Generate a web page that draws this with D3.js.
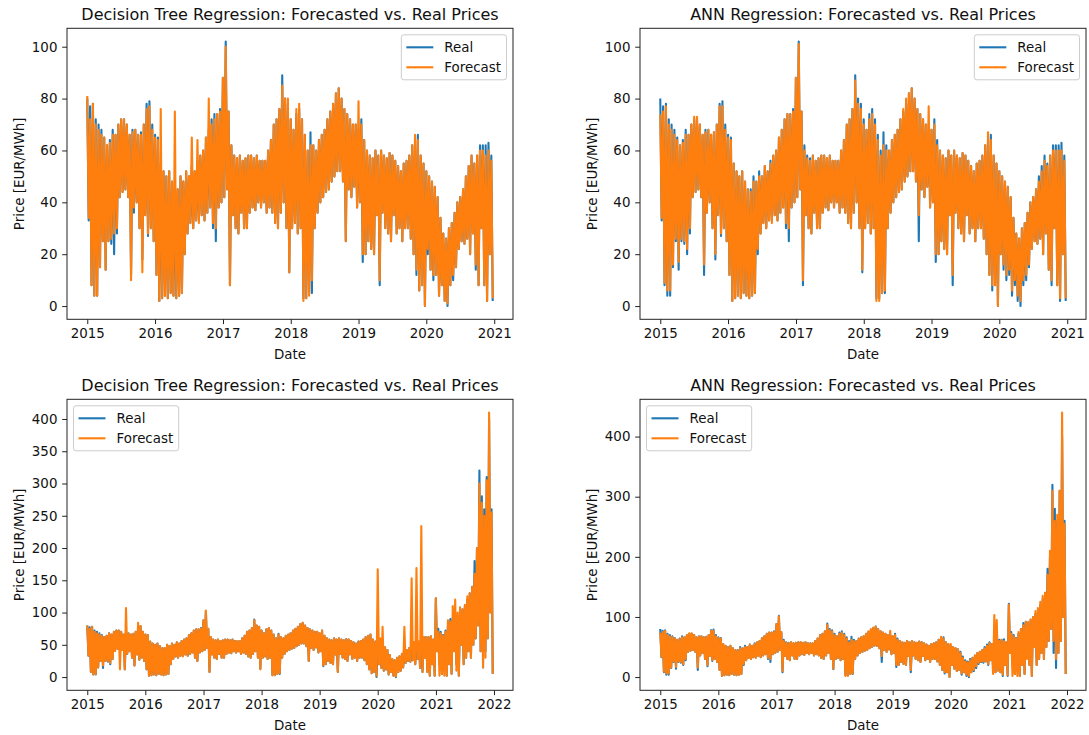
<!DOCTYPE html>
<html>
<head>
<meta charset="utf-8">
<script src="https://cdn.jsdelivr.net/npm/d3@7"></script>
<style>
  html, body { margin: 0; padding: 0; background: #fff; }
  svg { display: block; font-family: "DejaVu Sans", sans-serif; }
</style>
</head>
<body>
<svg id="chart" width="1089" height="735"></svg>
<script>
// Day-ahead prices, EUR/MWh. Each series is sampled twice a month:
// every pair of values is the (high, low) swing of that half-month.

// Real prices, 2015-2021
const realPrices = [
  80,33, 77,8, 78,4, 72,4, 70,15, 68,25, 65,14, 62,25, 64,24, 68,20, 66,28, 70,42, 72,44, 72,45, 70,42, 66,12, 68,36, 68,40, 66,30, 67,18, 70,35, 78,27, 79,30, 70,25,
  66,12, 65,2, 55,3, 52,4, 50,3, 52,5, 48,4, 45,3, 45,4, 50,5, 48,20, 52,28, 50,32, 54,30, 52,33, 56,33, 58,35, 60,33, 65,36, 68,38, 72,30, 74,25, 74,38, 76,40,
  88,42, 102,45, 75,8, 62,35, 58,30, 57,28, 58,36, 56,30, 57,30, 58,36, 58,38, 57,37, 58,40, 56,38, 56,40, 56,36, 60,38, 64,36, 70,32, 72,30, 76,36, 89,40, 80,30, 78,13,
  72,30, 68,32, 74,28, 76,30, 72,3, 66,3, 60,5, 67,5, 62,30, 60,36, 64,40, 66,42, 68,44, 72,45, 75,48, 78,50, 82,52, 84,52, 80,48, 76,25, 74,45, 72,42, 70,46, 70,38,
  68,40, 72,17, 64,20, 60,25, 58,22, 57,20, 60,35, 58,8, 60,36, 58,30, 57,28, 59,25, 58,35, 56,28, 54,30, 52,25, 55,30, 56,30, 58,26, 62,20, 64,12, 66,6, 58,8, 55,0,
  52,20, 50,14, 48,10, 46,12, 42,4, 34,8, 28,2, 26,0, 30,8, 32,10, 36,15, 40,22, 42,25, 45,24, 50,26, 54,20, 58,28, 55,14, 58,8, 62,30, 62,8, 62,2, 63,20, 58,2,
  122,40, 75,20, 70,5, 65,10, 72,2, 80,20, 90,5, 92,40, 90,20, 95,2, 100,50, 105,20, 110,30, 120,40, 130,30, 140,50, 180,60, 200,80, 320,40, 280,15, 260,40, 310,60, 400,100, 260,5
];

// Decision tree forecast, 2015-2020 model
const dtForecastTop = [
  81,34, 72,8, 78,4, 70,4, 68,15, 66,25, 65,14, 62,25, 63,26, 66,28, 66,30, 70,42, 72,44, 72,45, 70,42, 66,10, 67,38, 68,40, 66,30, 66,13, 70,35, 76,28, 77,30, 68,25,
  65,12, 64,2, 76,3, 52,4, 50,3, 52,5, 48,4, 75,3, 45,4, 50,5, 48,20, 52,28, 50,32, 65,30, 52,33, 64,32, 58,35, 60,33, 65,36, 80,38, 70,32, 72,30, 74,38, 75,40,
  88,42, 100,45, 75,8, 62,35, 58,30, 57,28, 58,36, 56,30, 57,30, 58,36, 58,38, 57,37, 58,40, 56,38, 56,40, 56,36, 60,38, 64,36, 70,32, 72,30, 76,36, 85,40, 80,30, 80,13,
  72,30, 68,32, 76,28, 78,30, 72,2, 66,3, 60,4, 62,10, 62,30, 60,36, 64,40, 66,42, 68,44, 72,45, 75,48, 78,50, 82,52, 84,52, 80,48, 76,25, 74,45, 72,42, 70,46, 70,38,
  79,40, 70,20, 64,20, 60,25, 58,22, 57,20, 60,35, 58,10, 60,36, 58,30, 57,28, 59,25, 58,35, 56,28, 54,30, 52,25, 55,30, 56,30, 58,26, 62,20, 66,14, 64,6, 58,8, 55,0,
  52,22, 50,14, 48,12, 46,12, 42,4, 34,8, 28,2, 26,1, 30,8, 32,12, 36,15, 40,22, 42,25, 45,24, 50,26, 54,20, 58,28, 55,16, 58,8, 60,30, 60,8, 58,2, 60,20, 56,3
];

// ANN forecast, 2015-2020 model
const annForecastTop = [
  74,34, 75,9, 77,6, 70,6, 68,16, 66,26, 64,17, 62,26, 63,25, 66,22, 66,30, 70,42, 73,44, 73,45, 70,42, 66,16, 67,36, 68,40, 66,30, 67,20, 70,35, 77,28, 77,30, 68,25,
  65,12, 64,2, 55,3, 52,4, 50,3, 52,5, 48,4, 45,3, 44,4, 48,5, 48,22, 50,28, 50,32, 54,30, 52,33, 55,32, 58,35, 60,33, 65,36, 68,38, 72,32, 74,30, 74,38, 75,40,
  88,42, 101,45, 75,10, 60,35, 57,30, 56,28, 58,36, 56,30, 57,30, 58,36, 58,38, 57,37, 58,40, 56,38, 56,40, 56,36, 60,38, 64,36, 70,32, 72,30, 76,36, 87,40, 78,30, 76,14,
  70,30, 68,32, 72,28, 74,30, 70,2, 64,2, 58,5, 62,6, 60,30, 60,36, 64,40, 66,42, 68,44, 72,45, 76,48, 80,50, 82,52, 84,52, 80,48, 76,35, 74,45, 72,42, 70,46, 77,38,
  68,40, 70,20, 62,20, 60,25, 58,22, 57,20, 60,35, 58,12, 60,36, 58,30, 57,28, 59,25, 58,35, 56,28, 54,30, 52,25, 55,30, 56,30, 58,26, 62,20, 67,12, 64,8, 58,8, 55,0,
  52,20, 50,16, 48,12, 46,14, 42,6, 34,10, 28,4, 26,2, 30,10, 32,12, 36,16, 40,22, 42,25, 45,24, 48,26, 52,20, 56,28, 54,14, 58,10, 60,30, 60,8, 60,3, 60,20, 56,3
];

// Decision tree forecast, 2015-2021 model
const dtForecast = [
  80,33, 75,8, 78,4, 70,5, 68,15, 66,25, 64,18, 62,25, 64,25, 68,22, 66,28, 70,40, 72,44, 72,12, 70,42, 66,12, 107,36, 68,40, 66,30, 67,18, 70,35, 84,27, 79,30, 70,25,
  66,12, 65,2, 55,3, 52,4, 50,3, 52,5, 48,4, 45,3, 45,4, 50,5, 48,20, 52,28, 50,32, 54,30, 52,33, 56,32, 58,35, 60,33, 65,36, 68,38, 72,30, 74,25, 74,38, 75,40,
  88,42, 103,45, 75,8, 62,35, 58,30, 57,28, 58,36, 56,30, 57,30, 58,36, 58,38, 57,37, 58,40, 56,38, 56,40, 56,36, 60,38, 64,36, 70,32, 72,30, 76,36, 88,40, 80,30, 78,12,
  72,30, 68,32, 74,28, 76,30, 72,3, 66,3, 60,5, 66,6, 62,30, 60,36, 64,40, 66,42, 68,44, 72,45, 75,48, 78,50, 82,52, 84,52, 80,48, 76,25, 74,45, 72,42, 70,46, 70,38,
  68,40, 72,18, 64,20, 60,25, 58,22, 57,20, 60,35, 58,8, 60,36, 58,30, 57,28, 59,25, 58,35, 56,28, 54,30, 52,25, 55,30, 56,30, 58,26, 62,20, 64,12, 66,6, 58,8, 55,2,
  167,20, 60,14, 78,10, 46,12, 42,4, 34,8, 28,2, 26,1, 30,8, 32,10, 36,15, 78,22, 42,25, 45,24, 153,26, 54,20, 169,28, 55,14, 234,8, 62,30, 62,8, 62,2, 63,20, 58,2,
  122,40, 70,2, 68,5, 64,2, 70,2, 88,20, 86,5, 110,40, 120,10, 100,2, 108,50, 105,20, 112,30, 125,40, 130,30, 140,50, 160,60, 200,80, 300,40, 270,15, 250,30, 305,60, 410,100, 255,5
];

// ANN forecast, 2015-2021 model
const annForecast = [
  74,34, 75,9, 77,6, 70,6, 68,16, 66,26, 64,17, 62,26, 63,25, 66,22, 66,30, 70,42, 73,44, 73,45, 70,42, 66,16, 67,36, 68,40, 66,30, 67,20, 70,35, 77,28, 77,30, 68,25,
  65,12, 64,2, 55,3, 52,4, 50,3, 52,5, 48,4, 45,3, 44,4, 48,5, 48,22, 50,28, 50,32, 54,30, 52,33, 55,32, 58,35, 60,33, 65,36, 68,38, 72,32, 74,30, 74,38, 75,40,
  88,42, 101,45, 75,10, 60,35, 57,30, 56,28, 58,36, 56,30, 57,30, 58,36, 58,38, 57,37, 58,40, 56,38, 56,40, 56,36, 60,38, 64,36, 70,32, 72,30, 76,36, 87,40, 78,30, 76,14,
  70,30, 68,32, 72,28, 74,30, 70,2, 64,2, 58,5, 62,6, 60,30, 60,36, 64,40, 66,42, 68,44, 72,45, 76,48, 80,50, 82,52, 84,52, 80,48, 76,35, 74,45, 72,42, 70,46, 77,38,
  68,40, 70,20, 62,20, 60,25, 58,22, 57,20, 60,35, 58,12, 60,36, 58,30, 57,28, 59,25, 58,35, 56,28, 54,30, 52,25, 55,30, 56,30, 58,26, 62,20, 67,12, 64,8, 58,8, 55,0,
  55,20, 50,14, 48,10, 46,12, 40,6, 32,8, 26,4, 24,2, 28,8, 32,12, 36,18, 40,24, 42,26, 45,26, 48,26, 52,22, 56,28, 55,5, 103,8, 95,10, 60,8, 62,4, 60,20, 58,3,
  120,40, 72,2, 68,5, 64,2, 75,2, 80,20, 86,5, 92,30, 92,20, 96,2, 100,50, 110,20, 115,30, 125,40, 135,30, 140,50, 170,60, 210,80, 310,60, 260,30, 270,40, 310,60, 440,100, 255,5
];

// Axis ticks
const yearsTop = [2015, 2016, 2017, 2018, 2019, 2020, 2021];
const yearsBottom = [2015, 2016, 2017, 2018, 2019, 2020, 2021, 2022];
const yTicksTop = [0, 20, 40, 60, 80, 100];
const yTicksDtBottom = [0, 50, 100, 150, 200, 250, 300, 350, 400];
const yTicksAnnBottom = [0, 100, 200, 300, 400];

const seriesNames = ["Real", "Forecast"];
const colors = ["#1f77b4", "#ff7f0e"];

// sampling: 48 points per year starting 1 Jan 2015
const t0 = Date.UTC(2015, 0, 1);
const step = 365.25 * 864e5 / 48;

const W = 446, H = 291;
const FS = 13.4, TITLE_FS = 16, TICK = 4.8;
const svg = d3.select("#chart");

const panels = [
  { title: "Decision Tree Regression: Forecasted vs. Real Prices", real: realPrices.slice(0, dtForecastTop.length),
    forecast: dtForecastTop, years: yearsTop, yTicks: yTicksTop, legend: "right", left: 67, top: 28.3 },
  { title: "ANN Regression: Forecasted vs. Real Prices", real: realPrices.slice(0, annForecastTop.length),
    forecast: annForecastTop, years: yearsTop, yTicks: yTicksTop, legend: "right", left: 640, top: 28.3 },
  { title: "Decision Tree Regression: Forecasted vs. Real Prices", real: realPrices,
    forecast: dtForecast, years: yearsBottom, yTicks: yTicksDtBottom, legend: "left", left: 67, top: 399.3 },
  { title: "ANN Regression: Forecasted vs. Real Prices", real: realPrices,
    forecast: annForecast, years: yearsBottom, yTicks: yTicksAnnBottom, legend: "left", left: 640, top: 399.3 }
];

function padded(ext) {
  const s = ext[1] - ext[0];
  return [ext[0] - 0.05 * s, ext[1] + 0.05 * s];
}

panels.forEach(p => {
  const g = svg.append("g").attr("transform", `translate(${p.left},${p.top})`);
  const dates = p.real.map((_, k) => new Date(t0 + k * step));

  const x = d3.scaleUtc()
    .domain(padded(d3.extent(dates, d => +d)))
    .range([0, W]);
  const y = d3.scaleLinear()
    .domain(padded(d3.extent(p.real.concat(p.forecast))))
    .range([H, 0]);

  const line = d3.line()
    .x((d, i) => x(dates[i]))
    .y(d => y(d));

  [p.real, p.forecast].forEach((s, i) => {
    g.append("path")
      .datum(s)
      .attr("d", line)
      .attr("fill", "none")
      .attr("stroke", colors[i])
      .attr("stroke-width", 2.1)
      .attr("stroke-linejoin", "round");
  });

  // axes
  const xAxis = d3.axisBottom(x)
    .tickValues(p.years.map(yr => new Date(Date.UTC(yr, 0, 1))))
    .tickFormat(d3.utcFormat("%Y"))
    .tickSize(TICK).tickPadding(TICK).tickSizeOuter(0);
  const yAxis = d3.axisLeft(y)
    .tickValues(p.yTicks)
    .tickSize(TICK).tickPadding(TICK).tickSizeOuter(0);

  const gx = g.append("g").attr("transform", `translate(0,${H})`).call(xAxis);
  const gy = g.append("g").call(yAxis);
  [gx, gy].forEach(a => {
    a.select(".domain").remove();
    a.selectAll("text").attr("font-size", FS).attr("fill", "#111").attr("font-family", "DejaVu Sans");
    a.selectAll("line").attr("stroke", "#222").attr("stroke-width", 1);
  });

  // frame
  g.append("rect")
    .attr("x", 0).attr("y", 0).attr("width", W).attr("height", H)
    .attr("fill", "none").attr("stroke", "#222").attr("stroke-width", 1);

  // labels
  g.append("text")
    .attr("x", W / 2).attr("y", -8.3)
    .attr("text-anchor", "middle")
    .attr("font-size", TITLE_FS).attr("fill", "#111")
    .text(p.title);
  g.append("text")
    .attr("x", W / 2).attr("y", H + 39.5)
    .attr("text-anchor", "middle")
    .attr("font-size", FS).attr("fill", "#111")
    .text("Date");
  g.append("text")
    .attr("transform", `translate(-48,${H / 2}) rotate(-90)`)
    .attr("text-anchor", "middle").attr("dy", "0.35em")
    .attr("font-size", FS).attr("fill", "#111")
    .text("Price [EUR/MWh]");

  // legend
  const lg = g.append("g");
  const box = lg.append("rect")
    .attr("rx", 2.5)
    .attr("fill", "#fff").attr("fill-opacity", 0.8)
    .attr("stroke", "#cccccc").attr("stroke-width", 1);
  let textW = 0;
  seriesNames.forEach((name, i) => {
    const cy = 12.5 + i * 20;
    lg.append("line")
      .attr("x1", 5).attr("x2", 32).attr("y1", cy).attr("y2", cy)
      .attr("stroke", colors[i]).attr("stroke-width", 2.1);
    const t = lg.append("text")
      .attr("x", 43).attr("y", cy).attr("dy", "0.35em")
      .attr("font-size", FS).attr("fill", "#111")
      .text(name);
    textW = Math.max(textW, t.node().getComputedTextLength());
  });
  const lw = 43 + textW + 5.5, lh = 45;
  box.attr("width", lw).attr("height", lh);
  const lx = p.legend === "right" ? W - 6.5 - lw : 6.5;
  lg.attr("transform", `translate(${lx},6.5)`);
});
</script>
</body>
</html>
